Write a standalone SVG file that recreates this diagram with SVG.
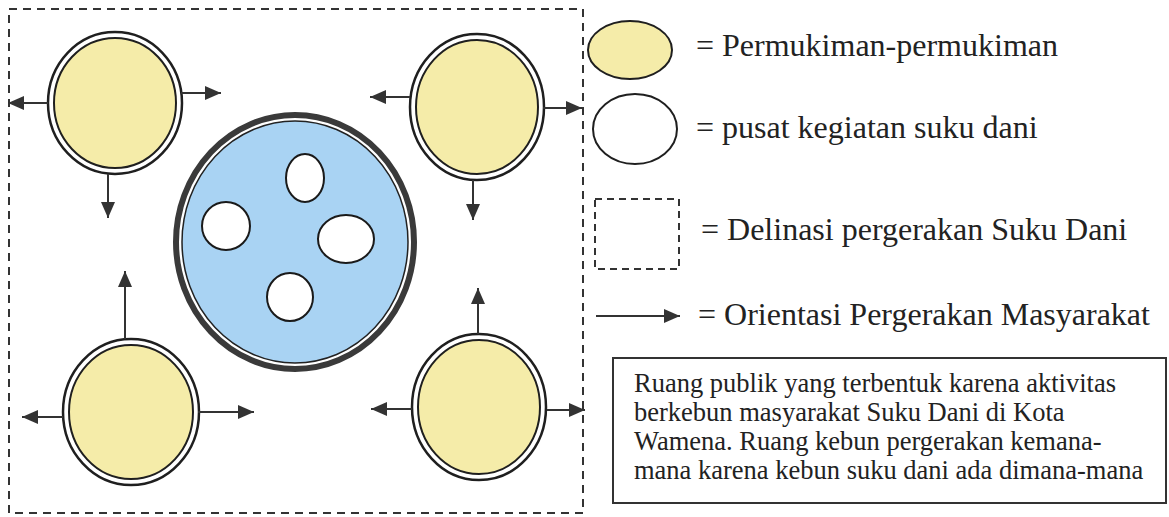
<svg xmlns="http://www.w3.org/2000/svg" width="1169" height="517" viewBox="0 0 1169 517">
  <defs>
    <style>
      .frame { fill: none; stroke: #333; stroke-width: 2; stroke-dasharray: 8 6; }
      .ring { fill: #fff; stroke: #1f1f1f; stroke-width: 2.5; }
      .settle { fill: #f5eca9; stroke: #1f1f1f; stroke-width: 2; }
      .hub-ring { fill: #fff; stroke: #3a3a3a; stroke-width: 6; }
      .hub { fill: #a9d3f3; stroke: #222; stroke-width: 1.5; }
      .spot { fill: #fff; stroke: #1a1a1a; stroke-width: 2; }
      .arrow { stroke: #333; stroke-width: 2; fill: none; marker-end: url(#head); }
      .label { font-family: "Liberation Serif", "Times New Roman", serif; font-size: 32px; fill: #222; }
      .note { font-family: "Liberation Serif", "Times New Roman", serif; font-size: 26.5px; fill: #222; }
    </style>
    <marker id="head" viewBox="0 0 16 14" markerWidth="16" markerHeight="14" refX="16" refY="7" orient="auto" markerUnits="userSpaceOnUse">
      <path d="M0,0 L16,7 L0,14 Z" fill="#333"/>
    </marker>
  </defs>

  <!-- movement boundary -->
  <rect class="frame" x="9" y="9" width="574" height="504"/>

  <!-- central activity area -->
  <g id="hub">
    <ellipse class="hub-ring" cx="295" cy="242" rx="119" ry="127"/>
    <ellipse class="hub" cx="295" cy="242" rx="113" ry="121"/>
    <ellipse class="spot" cx="305" cy="178" rx="19" ry="24"/>
    <ellipse class="spot" cx="226" cy="226" rx="24" ry="24"/>
    <ellipse class="spot" cx="346" cy="239" rx="28" ry="24"/>
    <ellipse class="spot" cx="290" cy="297" rx="23" ry="24"/>
  </g>

  <!-- settlements -->
  <g id="settlement-tl">
    <ellipse class="ring" cx="115" cy="103" rx="67" ry="71"/>
    <ellipse class="settle" cx="115" cy="103" rx="61" ry="65"/>
  </g>
  <g id="settlement-tr">
    <ellipse class="ring" cx="477" cy="107" rx="67" ry="73"/>
    <ellipse class="settle" cx="477" cy="107" rx="61" ry="67"/>
  </g>
  <g id="settlement-bl">
    <ellipse class="ring" cx="131" cy="412" rx="68" ry="73"/>
    <ellipse class="settle" cx="131" cy="412" rx="62" ry="67"/>
  </g>
  <g id="settlement-br">
    <ellipse class="ring" cx="479" cy="407" rx="67" ry="73"/>
    <ellipse class="settle" cx="479" cy="407" rx="61" ry="67"/>
  </g>

  <!-- movement directions -->
  <g id="connectors">
    <line class="arrow" x1="48" y1="103" x2="8" y2="103"/>
    <line class="arrow" x1="181" y1="93" x2="221" y2="93"/>
    <line class="arrow" x1="108" y1="174" x2="108" y2="218"/>

    <line class="arrow" x1="410" y1="97" x2="370" y2="97"/>
    <line class="arrow" x1="543" y1="108" x2="582" y2="108"/>
    <line class="arrow" x1="473" y1="180" x2="473" y2="220"/>

    <line class="arrow" x1="125" y1="339" x2="125" y2="271"/>
    <line class="arrow" x1="63" y1="417" x2="22" y2="417"/>
    <line class="arrow" x1="198" y1="412" x2="254" y2="412"/>

    <line class="arrow" x1="478" y1="334" x2="478" y2="288"/>
    <line class="arrow" x1="412" y1="409" x2="371" y2="409"/>
    <line class="arrow" x1="547" y1="410" x2="585" y2="410"/>
  </g>

  <!-- legend -->
  <g id="legend-settlement">
    <ellipse cx="630" cy="50" rx="42" ry="29" fill="#f5eca9" stroke="#1f1f1f" stroke-width="2"/>
    <text class="label" x="696" y="56">= Permukiman-permukiman</text>
  </g>
  <g id="legend-center">
    <ellipse cx="635" cy="129" rx="42" ry="35" fill="#fff" stroke="#1f1f1f" stroke-width="2"/>
    <text class="label" x="696" y="138">= pusat kegiatan suku dani</text>
  </g>
  <g id="legend-boundary">
    <rect x="595" y="199" width="84" height="70" fill="none" stroke="#333" stroke-width="2" stroke-dasharray="7 5"/>
    <text class="label" x="701" y="240">= Delinasi pergerakan Suku Dani</text>
  </g>
  <g id="legend-orientation">
    <line class="arrow" x1="596" y1="316" x2="680" y2="316"/>
    <text class="label" x="698" y="325">= Orientasi Pergerakan Masyarakat</text>
  </g>

  <!-- description -->
  <g id="note">
    <rect x="613" y="358" width="553" height="145" fill="#fff" stroke="#333" stroke-width="2"/>
    <text class="note" x="634" y="392">Ruang publik yang terbentuk karena aktivitas</text>
    <text class="note" x="634" y="421">berkebun masyarakat Suku Dani di Kota</text>
    <text class="note" x="634" y="450">Wamena. Ruang kebun pergerakan kemana-</text>
    <text class="note" x="634" y="479">mana karena kebun suku dani ada dimana-mana</text>
  </g>
</svg>
